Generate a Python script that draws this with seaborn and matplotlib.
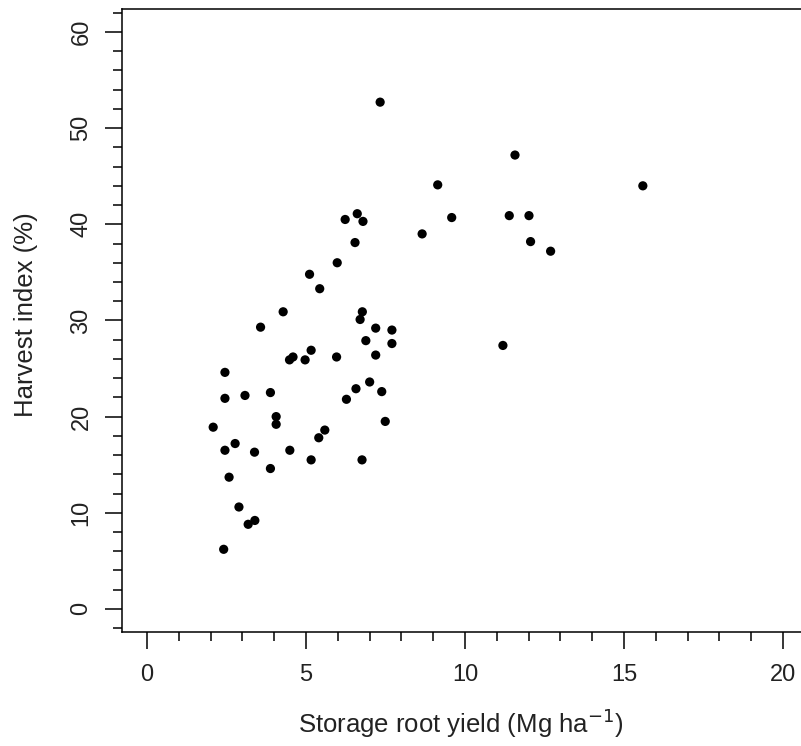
import matplotlib
matplotlib.use("Agg")
import matplotlib.pyplot as plt
import seaborn as sns
import pandas as pd
from matplotlib.ticker import MultipleLocator

# Storage root yield (Mg/ha) vs harvest index (%)
root_yield = [2.08, 2.45, 2.45, 2.45, 2.58, 2.41, 2.77, 2.89, 3.08, 3.18,
              3.39, 3.38, 3.57, 3.88, 3.88, 4.06, 4.06, 4.28, 4.59, 4.48,
              4.49, 4.97, 5.11, 5.16, 5.16, 5.43, 5.40, 5.59, 5.96, 5.98,
              6.23, 6.27, 6.54, 6.57, 6.61, 6.79, 6.77, 6.70, 6.76, 6.88,
              7.00, 7.19, 7.19, 7.33, 7.38, 7.49, 7.70, 7.70, 8.65, 9.14,
              9.58, 11.19, 11.39, 11.57, 12.01, 12.06, 12.69, 15.59]
harvest_index = [18.9, 24.6, 21.9, 16.5, 13.7, 6.2, 17.2, 10.6, 22.2, 8.8,
                 9.2, 16.3, 29.3, 22.5, 14.6, 20.0, 19.2, 30.9, 26.2, 25.9,
                 16.5, 25.9, 34.8, 26.9, 15.5, 33.3, 17.8, 18.6, 26.2, 36.0,
                 40.5, 21.8, 38.1, 22.9, 41.1, 40.3, 30.9, 30.1, 15.5, 27.9,
                 23.6, 29.2, 26.4, 52.7, 22.6, 19.5, 29.0, 27.6, 39.0, 44.1,
                 40.7, 27.4, 40.9, 47.2, 40.9, 38.2, 37.2, 44.0]

x_ticks = [0, 5, 10, 15, 20]
y_ticks = [0, 10, 20, 30, 40, 50, 60]

df = pd.DataFrame({'yield': root_yield, 'hi': harvest_index})

sns.set_theme(style="white")
plt.rcParams['font.family'] = ['Liberation Sans', 'DejaVu Sans']

fig = plt.figure(figsize=(8.01, 7.46), dpi=100)
ax = fig.add_axes([0.1518, 0.1528, 0.8576, 0.8353])

sns.scatterplot(data=df, x='yield', y='hi', ax=ax, color='black',
                s=44, edgecolor='none', linewidth=0)

ax.set_xlim(-0.8, 20.8)
ax.set_ylim(-2.4, 62.4)
ax.set_xticks(x_ticks)
ax.set_yticks(y_ticks)
ax.xaxis.set_minor_locator(MultipleLocator(1))
ax.yaxis.set_minor_locator(MultipleLocator(2))

for side in ['left', 'top', 'bottom']:
    ax.spines[side].set_color('black')
    ax.spines[side].set_linewidth(1.1)
ax.spines['right'].set_visible(False)

ax.tick_params(which='major', direction='out', length=12, width=1.1,
               color='black', labelsize=17, labelcolor='#222222',
               left=True, bottom=True)
ax.tick_params(which='minor', direction='out', length=6.5, width=1.1,
               color='black', left=True, bottom=True)
ax.tick_params(axis='x', which='major', pad=11)
ax.tick_params(axis='y', which='major', pad=9, labelrotation=90)
for lab in ax.get_yticklabels():
    lab.set_va('center')

ax.set_xlabel('Storage root yield (Mg ha$^{-1}$)', fontsize=18.5, color='#222222')
ax.set_ylabel('Harvest index (%)', fontsize=18.5, color='#222222')
ax.xaxis.set_label_coords(0.494, -0.162)
ax.xaxis.label.set_va('baseline')
ax.yaxis.set_label_coords(-0.129, 0.509)
ax.yaxis.label.set_va('baseline')

fig.savefig('out.png', dpi=100)
